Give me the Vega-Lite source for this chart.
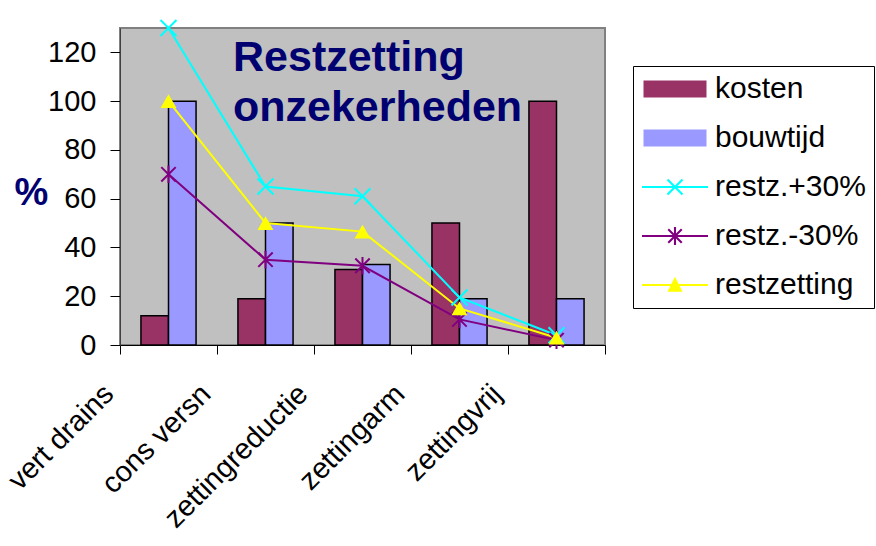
{
  "$schema": "https://vega.github.io/schema/vega-lite/v6.json",
  "width": 485,
  "height": 317,
  "autosize": {"type": "none"},
  "padding": {"left": 120, "top": 28, "right": 271, "bottom": 201},
  "background": "white",
  "config": {
    "font": "Liberation Sans",
    "view": {"fill": "#C0C0C0", "stroke": "#808080", "strokeWidth": 2}
  },
  "title": {
    "text": ["Restzetting", "onzekerheden"],
    "orient": "top",
    "anchor": "start",
    "frame": "group",
    "align": "left",
    "baseline": "top",
    "offset": -114,
    "dx": 113,
    "lineHeight": 50,
    "font": "Liberation Sans",
    "fontSize": 43,
    "fontWeight": "bold",
    "color": "#000070"
  },
  "data": {
    "values": [
      {"cat": "vert drains", "series": "kosten", "value": 12},
      {"cat": "cons versn", "series": "kosten", "value": 19},
      {"cat": "zettingreductie", "series": "kosten", "value": 31},
      {"cat": "zettingarm", "series": "kosten", "value": 50},
      {"cat": "zettingvrij", "series": "kosten", "value": 100},
      {"cat": "vert drains", "series": "bouwtijd", "value": 100},
      {"cat": "cons versn", "series": "bouwtijd", "value": 50},
      {"cat": "zettingreductie", "series": "bouwtijd", "value": 33},
      {"cat": "zettingarm", "series": "bouwtijd", "value": 19},
      {"cat": "zettingvrij", "series": "bouwtijd", "value": 19},
      {"cat": "vert drains", "series": "restz.+30%", "value": 130},
      {"cat": "cons versn", "series": "restz.+30%", "value": 65},
      {"cat": "zettingreductie", "series": "restz.+30%", "value": 61},
      {"cat": "zettingarm", "series": "restz.+30%", "value": 19.5},
      {"cat": "zettingvrij", "series": "restz.+30%", "value": 4},
      {"cat": "vert drains", "series": "restz.-30%", "value": 70},
      {"cat": "cons versn", "series": "restz.-30%", "value": 35},
      {"cat": "zettingreductie", "series": "restz.-30%", "value": 32.5},
      {"cat": "zettingarm", "series": "restz.-30%", "value": 10.5},
      {"cat": "zettingvrij", "series": "restz.-30%", "value": 2},
      {"cat": "vert drains", "series": "restzetting", "value": 100},
      {"cat": "cons versn", "series": "restzetting", "value": 50},
      {"cat": "zettingreductie", "series": "restzetting", "value": 46.5},
      {"cat": "zettingarm", "series": "restzetting", "value": 15},
      {"cat": "zettingvrij", "series": "restzetting", "value": 3}
    ]
  },
  "encoding": {
    "x": {
      "field": "cat",
      "type": "nominal",
      "sort": null,
      "scale": {"paddingInner": 0, "paddingOuter": 0},
      "axis": {
        "title": null,
        "tickBand": "extent",
        "tickSize": 9,
        "tickColor": "black",
        "tickWidth": 1,
        "domainColor": "black",
        "domainWidth": 1,
        "labelAngle": -45,
        "labelAlign": "right",
        "labelBaseline": "middle",
        "labelFontSize": 29,
        "labelColor": "black",
        "labelPadding": 35,
        "labelOffset": -60,
        "labelLimit": 0,
        "labelOverlap": false,
        "labelBound": false
      }
    },
    "y": {
      "field": "value",
      "type": "quantitative",
      "scale": {"domain": [0, 130], "nice": false},
      "axis": {
        "values": [0, 20, 40, 60, 80, 100, 120],
        "grid": false,
        "tickSize": 10,
        "tickColor": "black",
        "domainColor": "#404040",
        "labelFontSize": 29,
        "labelColor": "black",
        "labelPadding": 14,
        "title": "%",
        "titleAngle": 0,
        "titleX": -89,
        "titleY": 165,
        "titleAlign": "center",
        "titleBaseline": "middle",
        "titleFontSize": 38,
        "titleFontWeight": "bold",
        "titleColor": "#000070",
        "titleFont": "Liberation Sans"
      }
    }
  },
  "layer": [
    {
      "transform": [{"filter": "datum.series === 'kosten' || datum.series === 'bouwtijd'"}],
      "mark": {"type": "bar", "stroke": "black", "strokeWidth": 1.5},
      "encoding": {
        "xOffset": {
          "field": "series",
          "type": "nominal",
          "sort": ["kosten", "bouwtijd"],
          "scale": {"domain": ["kosten", "bouwtijd"], "paddingInner": 0, "paddingOuter": 0.76}
        },
        "fill": {
          "field": "series",
          "type": "nominal",
          "scale": {"domain": ["kosten", "bouwtijd"], "range": ["#993366", "#9999FF"]},
          "legend": null
        }
      }
    },
    {
      "transform": [{"filter": "datum.series !== 'kosten' && datum.series !== 'bouwtijd'"}],
      "mark": {"type": "line", "strokeWidth": 2},
      "encoding": {
        "stroke": {
          "field": "series",
          "type": "nominal",
          "scale": {
            "domain": ["restz.+30%", "restz.-30%", "restzetting"],
            "range": ["#00FFFF", "#800080", "#FFFF00"]
          },
          "legend": null
        }
      }
    },
    {
      "transform": [{"filter": "datum.series === 'restz.+30%'"}],
      "mark": {"type": "point", "shape": "M-1,-1L1,1M-1,1L1,-1", "size": 256, "filled": false, "stroke": "#00FFFF", "strokeWidth": 2, "opacity": 1}
    },
    {
      "transform": [{"filter": "datum.series === 'restz.-30%'"}],
      "mark": {"type": "point", "shape": "M-0.9,-0.9L0.9,0.9M-0.9,0.9L0.9,-0.9M0,-1.1V1.1", "size": 256, "filled": false, "stroke": "#800080", "strokeWidth": 2, "opacity": 1}
    },
    {
      "transform": [{"filter": "datum.series === 'restzetting'"}],
      "mark": {"type": "point", "shape": "triangle-up", "size": 256, "filled": true, "fill": "#FFFF00", "opacity": 1}
    },
    {
      "transform": [{"filter": "false"}],
      "mark": {"type": "point", "filled": true, "opacity": 1},
      "encoding": {
        "color": {
          "field": "series",
          "type": "nominal",
          "scale": {
            "domain": ["kosten", "bouwtijd", "restz.+30%", "restz.-30%", "restzetting"],
            "range": ["#993366", "#9999FF", "#00FFFF", "#800080", "#FFFF00"]
          },
          "legend": {
            "title": null,
            "orient": "none",
            "legendX": 513,
            "legendY": 38,
            "padding": 8,
            "strokeColor": "black",
            "fillColor": "white",
            "symbolSize": 900,
            "symbolOffset": 19,
            "symbolOpacity": 1,
            "symbolStrokeWidth": 0,
            "labelFontSize": 30,
            "labelFont": "Liberation Sans",
            "labelColor": "black",
            "labelLimit": 0,
            "labelOffset": 25,
            "rowPadding": 19
          }
        },
        "shape": {
          "field": "series",
          "type": "nominal",
          "scale": {
            "domain": ["kosten", "bouwtijd", "restz.+30%", "restz.-30%", "restzetting"],
            "range": [
              "M-2.1,-0.57H2.1V0.57H-2.1Z",
              "M-2.1,-0.57H2.1V0.57H-2.1Z",
              "M-2.2,-0.07H2.2V0.07H-2.2ZM-0.45,-0.55L0.55,0.45L0.45,0.55L-0.55,-0.45ZM-0.55,0.45L0.45,-0.55L0.55,-0.45L-0.45,0.55Z",
              "M-2.2,-0.07H2.2V0.07H-2.2ZM-0.4,-0.5L0.5,0.4L0.4,0.5L-0.5,-0.4ZM-0.5,0.4L0.4,-0.5L0.5,-0.4L-0.4,0.5ZM-0.07,-0.6H0.07V0.6H-0.07Z",
              "M-2.2,-0.07H2.2V0.07H-2.2ZM0,-0.55L0.5,0.45L-0.5,0.45Z"
            ]
          },
          "legend": {
            "title": null,
            "orient": "none",
            "legendX": 513,
            "legendY": 38,
            "padding": 8,
            "strokeColor": "black",
            "fillColor": "white",
            "symbolSize": 900,
            "symbolOffset": 19,
            "symbolOpacity": 1,
            "symbolStrokeWidth": 0,
            "labelFontSize": 30,
            "labelFont": "Liberation Sans",
            "labelColor": "black",
            "labelLimit": 0,
            "labelOffset": 25,
            "rowPadding": 19
          }
        }
      }
    }
  ]
}
